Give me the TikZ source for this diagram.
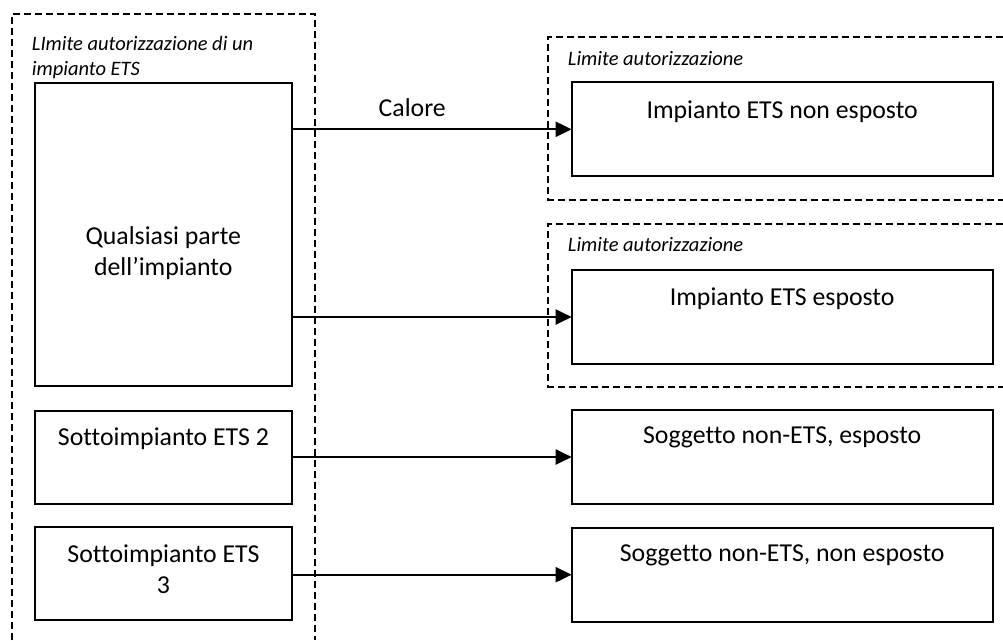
\documentclass[tikz,border=0pt]{standalone}
\usepackage{fontspec}
\setmainfont{Carlito}[Ligatures={TeX,NoCommon}]
\usetikzlibrary{arrows.meta,calc}
\begin{document}
\begin{tikzpicture}[x=1pt,y=-1pt,
  frame/.style={draw, line width=1.7pt, dash pattern=on 7pt off 4pt},
  box/.style={draw, line width=2pt, minimum width=421pt, minimum height=94pt, anchor=north west, inner sep=0pt, outer sep=0pt},
  lbox/.style={box, minimum width=257pt, minimum height=93pt},
  boxtext/.style={font=\fontsize{25.8}{30.5}\selectfont, anchor=base, align=center, inner sep=0pt},
  frametext/.style={font=\itshape\fontsize{20.5}{25}\selectfont, anchor=base west, align=left, inner sep=0pt},
  flow/.style={line width=2pt, -{Triangle[length=16pt,width=15pt]}}]
\useasboundingbox (0,0) rectangle (1003,640);

% frames
\draw[frame] (11.7,640) -- (11.7,14) -- (315,14) -- (315,640);
\node[frametext] (fl) at (31.7,75) {LImite autorizzazione di un\\impianto ETS};
\draw[frame] (1003,37) -- (548.3,37) -- (548.3,200) -- (1003,200);
\node[frametext] (f1) at (567.7,65) {Limite autorizzazione};
\draw[frame] (1003,224) -- (548.3,224) -- (548.3,386.7) -- (1003,386.7);
\node[frametext] (f2) at (567.7,251.7) {Limite autorizzazione};

% left boxes
\node[lbox, minimum height=303pt] (q) at (35,83.3) {};
\node[boxtext] (qt) at (163.3,275) {Qualsiasi parte\\dell’impianto};
\node[lbox] (s2) at (35,411) {};
\node[boxtext] (s2t) at ($(s2.north)+(0,34)$) {Sottoimpianto ETS 2};
\node[lbox] (s3) at (35,527) {};
\node[boxtext] (s3t) at ($(s3.north)+(0,66)$) {Sottoimpianto ETS\\3};

% right boxes
\node[box] (r1) at (571.7,82.3) {};
\node[boxtext] (r1t) at ($(r1.north)+(0,36)$) {Impianto ETS non esposto};
\node[box] (r2) at (571.7,270) {};
\node[boxtext] (r2t) at ($(r2.north)+(0,35)$) {Impianto ETS esposto};
\node[box] (r3) at (571.7,410) {};
\node[boxtext] (r3t) at ($(r3.north)+(0,33.3)$) {Soggetto non-ETS, esposto};
\node[box] (r4) at (571.7,527.7) {};
\node[boxtext] (r4t) at ($(r4.north)+(0,34)$) {Soggetto non-ETS, non esposto};

% connectors
\draw[flow] (q.east |- r1.west) -- node[pos=0.43, anchor=base, yshift=13.3pt, inner sep=0pt, font=\fontsize{25.8}{30}\selectfont] (cal) {Calore} (r1.west);
\draw[flow] (q.east |- r2.west) -- (r2.west);
\draw[flow] (s2.east |- r3.west) -- (r3.west);
\draw[flow] (s3.east |- r4.west) -- (r4.west);
\end{tikzpicture}
\end{document}
